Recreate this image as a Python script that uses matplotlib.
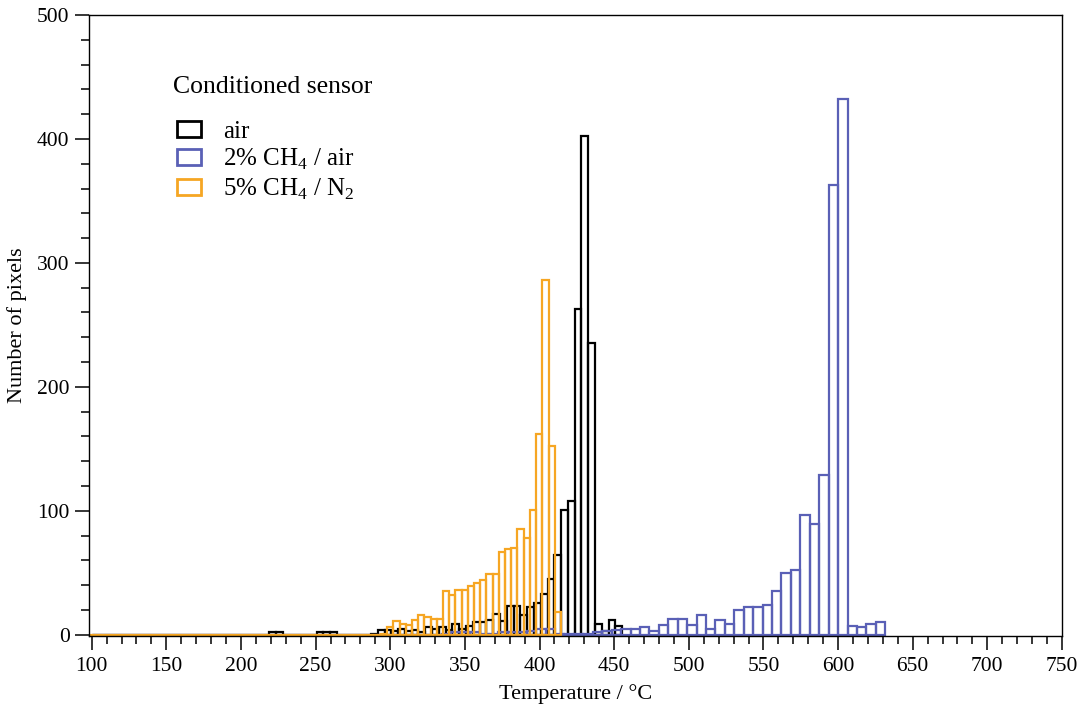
import numpy as np
import matplotlib.pyplot as plt
from matplotlib.patches import Patch
from matplotlib.ticker import MultipleLocator

plt.rcParams['font.family'] = 'Liberation Serif'
plt.rcParams['mathtext.fontset'] = 'custom'
plt.rcParams['mathtext.rm'] = 'Liberation Serif'

# %% data (counts per bin)
# black: air, 78 bins of 4.55 °C starting at 100.5
air_start, air_width = 100.5, 4.55
air_counts = [0, 0, 0, 0, 0, 0, 0, 0, 0, 0,
              0, 0, 0, 0, 0, 0, 0, 0, 0, 0,
              0, 0, 0, 0, 0, 0, 2, 2, 0, 0,
              0, 0, 0, 2, 2, 2, 0, 0, 0, 0,
              0, 1, 4, 4, 3, 5, 3, 4, 2, 6,
              5, 6, 4, 9, 5, 7, 10, 10, 12, 17,
              11, 23, 23, 16, 22, 26, 33, 45, 64, 101,
              108, 263, 402, 235, 9, 3, 12, 7]

# blue: 2% CH4 / air, 84 bins of 6.32 °C starting at 100.72
ch4air_start, ch4air_width = 100.72, 6.32
ch4air_counts = [0, 0, 0, 0, 0, 0, 0, 0, 0, 0,
                 0, 0, 0, 0, 0, 0, 0, 0, 0, 0,
                 0, 0, 0, 0, 0, 0, 0, 0, 0, 0,
                 0, 0, 0, 0, 0, 0, 0, 1, 2, 2,
                 2, 1, 1, 2, 2, 2, 3, 5, 5, 1,
                 1, 1, 1, 2, 3, 4, 5, 5, 6, 3,
                 8, 13, 13, 8, 16, 5, 12, 9, 20, 22,
                 22, 24, 35, 50, 52, 97, 89, 129, 363, 432,
                 7, 6, 9, 10]

# orange: 5% CH4 / N2, 76 bins of 4.16 °C starting at 98.2
ch4n2_start, ch4n2_width = 98.2, 4.16
ch4n2_counts = [0, 0, 0, 0, 0, 0, 0, 0, 0, 0,
                0, 0, 0, 0, 0, 0, 0, 0, 0, 0,
                0, 0, 0, 0, 0, 0, 0, 0, 0, 0,
                0, 0, 0, 0, 0, 0, 0, 0, 0, 0,
                0, 0, 0, 0, 0, 0, 0, 1, 6, 11,
                9, 8, 12, 16, 14, 13, 13, 35, 32, 36,
                36, 39, 42, 44, 49, 49, 67, 69, 70, 85,
                78, 101, 162, 286, 152, 18]

labels = ['air', '2% CH$_{\\mathrm{4}}$ / air', '5% CH$_{\\mathrm{4}}$ / N$_{\\mathrm{2}}$']
colors = ['black', '#5A60B6', '#F6A623']

# %%
fig = plt.figure(figsize=(10.83, 7.13), dpi=100)
ax = fig.add_axes([0.0822, 0.108, 0.8984, 0.871])

series = [(air_start, air_width, air_counts),
          (ch4air_start, ch4air_width, ch4air_counts),
          (ch4n2_start, ch4n2_width, ch4n2_counts)]

for (start, width, counts), c in zip(series, colors):
    left = start + width * np.arange(len(counts))
    ax.bar(left, counts, width=width, align='edge', fill=False,
           edgecolor=c, linewidth=1.6)

ax.set_xlim(98.2, 750)
ax.set_ylim(-1, 500)

ax.xaxis.set_major_locator(MultipleLocator(50))
ax.xaxis.set_minor_locator(MultipleLocator(10))
ax.yaxis.set_major_locator(MultipleLocator(100))
ax.yaxis.set_minor_locator(MultipleLocator(20))

ax.tick_params(which='major', direction='out', length=10, width=1.1,
               labelsize=15.5, pad=4)
ax.tick_params(axis='x', which='major', pad=5)
ax.tick_params(which='minor', direction='out', length=5.5, width=1.1)
for s in ax.spines.values():
    s.set_linewidth(1.0)

ax.set_xlabel('Temperature / °C', fontsize=16, labelpad=6)
ax.set_ylabel('Number of pixels', fontsize=16, labelpad=7)

# -------- legend --------
ax.text(0.0863, 0.884, 'Conditioned sensor', transform=ax.transAxes,
        fontsize=18.5, ha='left', va='center')

handles = [Patch(facecolor='none', edgecolor=c, linewidth=2) for c in colors]
ax.legend(handles, labels, loc='upper left', bbox_to_anchor=(0.0904, 0.83),
          frameon=False, fontsize=18, handlelength=0.96, handleheight=0.6,
          handletextpad=0.87, labelspacing=0.18, borderpad=0, borderaxespad=0)

fig.savefig('out.png', dpi=100)
